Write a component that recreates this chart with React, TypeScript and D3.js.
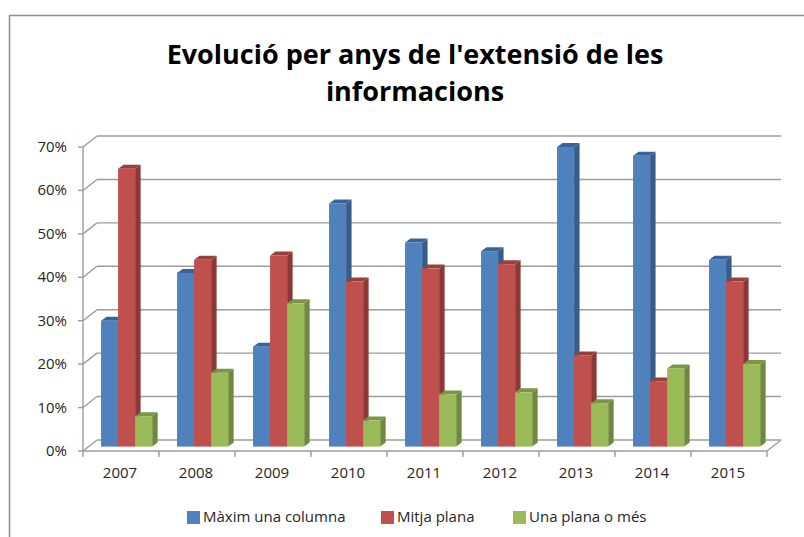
import React from 'react';
import * as d3 from 'd3';

// Data (percentages)
const years = ['2007', '2008', '2009', '2010', '2011', '2012', '2013', '2014', '2015'];
const seriesNames = ['Màxim una columna', 'Mitja plana', 'Una plana o més'];
const maximUnaColumna = [29, 40, 23, 56, 47, 45, 69, 67, 43];
const mitjaPlana = [64, 43, 44, 38, 41, 42, 21, 15, 38];
const unaPlanaOMes = [7, 17, 33, 6, 12, 12.5, 10, 18, 19];
const yTicks = [0, 10, 20, 30, 40, 50, 60, 70];

const seriesValues = [maximUnaColumna, mitjaPlana, unaPlanaOMes];
const frontColors = ['#4F81BD', '#C0504D', '#9BBB59'];
const sideColors = ['#385D8A', '#8C3836', '#71893F'];
const topColors = ['#3A6496', '#96403D', '#7A9645'];

const W = 804;
const H = 537;
const FONT = '"Open Sans", "Noto Sans", sans-serif';

// 3D plot frame
const X0 = 83;
const X1 = 767;
const DX = 14; // wall depth offset
const DY = -11;
const BDX = 5.6; // bars sit at this depth
const BDY = -4.4;
const SX = 5.5; // bar's own depth
const SY = -4;

const App: React.FC = () => {
  const y = d3.scaleLinear().domain([0, 70]).range([451, 147]);
  const x = d3.scaleBand<string>().domain(years).range([X0, X1]);
  const xs = d3
    .scaleBand<string>()
    .domain(seriesNames)
    .range([0, x.bandwidth()])
    .paddingOuter(0.73);

  const grid = '#9C9C9C';

  return (
    <svg
      width={W}
      height={H}
      style={{ position: 'absolute', left: 0, top: 0, background: '#fff' }}
      fontFamily={FONT}
    >
      {/* chart border, cut off at right/bottom like the reference */}
      <rect x={9.5} y={15.5} width={900} height={700} fill="#fff" stroke="#8C8C8C" strokeWidth={1.5} />

      <text x={415} y={64} textAnchor="middle" fontSize={27} fontWeight="bold" fill="#000">
        Evolució per anys de l'extensió de les
      </text>
      <text x={415} y={101} textAnchor="middle" fontSize={27} fontWeight="bold" fill="#000">
        informacions
      </text>

      {/* walls: gridlines on back wall and left wall */}
      <g stroke={grid} strokeWidth={1.4} fill="none">
        {yTicks.map(t => (
          <g key={t}>
            <line x1={X0 + DX} y1={y(t) + DY} x2={X1 + DX} y2={y(t) + DY} />
            <line x1={X0} y1={y(t)} x2={X0 + DX} y2={y(t) + DY} />
            <line x1={X0 - 5} y1={y(t)} x2={X0} y2={y(t)} />
          </g>
        ))}
        {/* floor */}
        <line x1={X0} y1={y(0)} x2={X1} y2={y(0)} />
        <line x1={X1} y1={y(0)} x2={X1 + DX} y2={y(0) + DY} />
        {/* front value axis */}
        <line x1={X0} y1={y(70)} x2={X0} y2={y(0)} />
        {/* category ticks */}
        {years.map(yr => (
          <line key={yr} x1={x(yr)!} y1={y(0)} x2={x(yr)!} y2={y(0) + 6} />
        ))}
        <line x1={X1} y1={y(0)} x2={X1} y2={y(0) + 6} />
      </g>

      {/* y labels */}
      {yTicks.map(t => (
        <text
          key={t}
          x={67}
          y={y(t) + 1}
          textAnchor="end"
          dominantBaseline="middle"
          fontSize={15}
          fill="#262626"
        >
          {t}%
        </text>
      ))}

      {/* x labels */}
      {years.map(yr => (
        <text
          key={yr}
          x={x(yr)! + x.bandwidth() / 2 - 1}
          y={474}
          textAnchor="middle"
          dominantBaseline="middle"
          fontSize={15}
          fill="#262626"
        >
          {yr}
        </text>
      ))}

      {/* 3D bars */}
      {years.map((yr, i) => (
        <g key={yr}>
          {seriesNames.map((s, j) => {
            const v = seriesValues[j][i];
            const xl = x(yr)! + xs(s)! + BDX;
            const xr = xl + xs.bandwidth();
            const yt = y(v) + BDY;
            const yb = y(0) + BDY;
            return (
              <g key={s}>
                <polygon
                  points={`${xr},${yt} ${xr + SX},${yt + SY} ${xr + SX},${yb + SY} ${xr},${yb}`}
                  fill={sideColors[j]}
                />
                <polygon
                  points={`${xl},${yt} ${xl + SX},${yt + SY} ${xr + SX},${yt + SY} ${xr},${yt}`}
                  fill={topColors[j]}
                />
                <rect x={xl} y={yt} width={xr - xl} height={yb - yt} fill={frontColors[j]} />
              </g>
            );
          })}
        </g>
      ))}

      {/* legend */}
      {seriesNames.map((s, j) => {
        const lx = [187, 381, 513][j];
        return (
          <g key={s}>
            <rect x={lx} y={511} width={13} height={13} fill={frontColors[j]} />
            <text x={lx + 16} y={518} dominantBaseline="middle" fontSize={15} fill="#262626">
              {s}
            </text>
          </g>
        );
      })}
    </svg>
  );
};

export default App;
